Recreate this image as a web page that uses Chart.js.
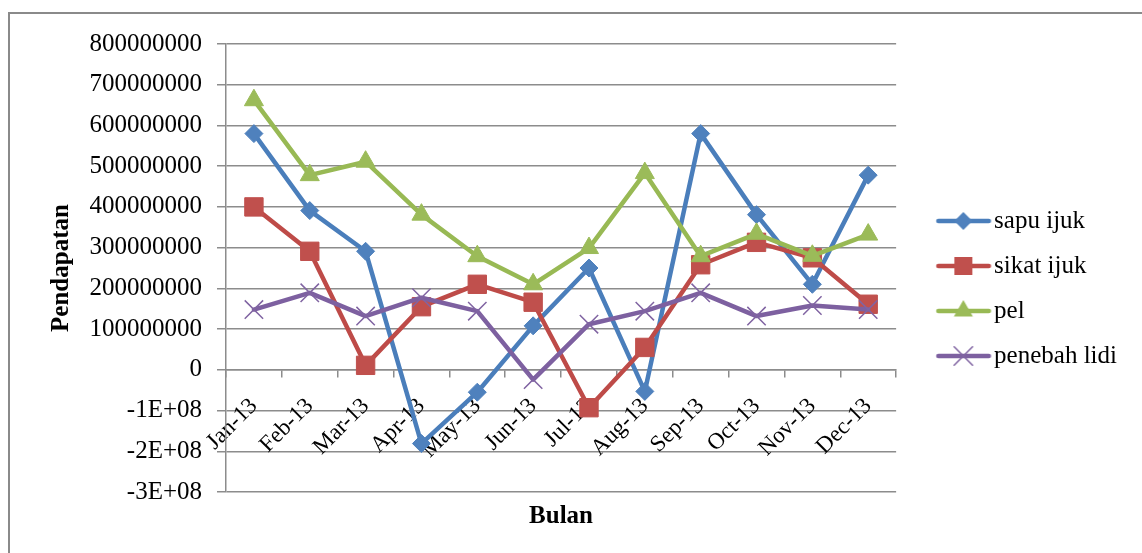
<!DOCTYPE html>
<html>
<head>
<meta charset="utf-8">
<script src="https://cdn.jsdelivr.net/npm/chart.js@4.4.0/dist/chart.umd.min.js"></script>
<style>
html, body { margin: 0; padding: 0; background: #fff; overflow: hidden; }
#frame { position: absolute; left: 8px; top: 12px; width: 1200px; height: 600px; border: 2px solid #8a8a8a; }
#myChart { position: absolute; left: 0; top: 0; }
</style>
</head>
<body>
<div id="frame"><canvas id="myChart" width="1132" height="539"></canvas></div>
<script>
const months = ["Jan-13", "Feb-13", "Mar-13", "Apr-13", "May-13", "Jun-13",
                "Jul-13", "Aug-13", "Sep-13", "Oct-13", "Nov-13", "Dec-13"];

const sapuIjuk = [580000000, 391000000, 291000000, -181000000, -55000000, 108000000,
                  250000000, -53000000, 580000000, 381000000, 210000000, 478000000];
const sikatIjuk = [400000000, 291000000, 11000000, 155000000, 210000000, 166000000,
                   -93000000, 55000000, 258000000, 313000000, 275000000, 161000000];
const pel = [662000000, 478000000, 511000000, 381000000, 279000000, 210000000,
             299000000, 483000000, 279000000, 334000000, 280000000, 332000000];
const penebahLidi = [148000000, 189000000, 132000000, 177000000, 144000000, -24000000,
                     112000000, 144000000, 189000000, 132000000, 158000000, 148000000];

const seriesNames = ["sapu ijuk", "sikat ijuk", "pel", "penebah lidi"];

const yTickValues = [-300000000, -200000000, -100000000, 0, 100000000, 200000000,
                     300000000, 400000000, 500000000, 600000000, 700000000, 800000000];
const yTickLabels = ["-3E+08", "-2E+08", "-1E+08", "0", "100000000", "200000000",
                     "300000000", "400000000", "500000000", "600000000", "700000000", "800000000"];

const lineColors = ["#4A7EBB", "#BE4B48", "#98B954", "#7D60A0"];
const markColors = ["#4F81BD", "#C0504D", "#9BBB59", "#8064A2"];
const serif = "'Liberation Serif', 'Times New Roman', serif";
const gridColor = "#8c8c8c";

// legend icon: short line with the marker in the middle
function legendIcon(i)
{
    const c = document.createElement("canvas");
    c.width = 91;
    c.height = 28;
    const g = c.getContext("2d");
    const cx = 60, cy = 14;
    g.strokeStyle = lineColors[i];
    g.lineWidth = 4.5;
    g.lineCap = "round";
    g.beginPath();
    g.moveTo(35, cy);
    g.lineTo(85.5, cy);
    g.stroke();
    g.fillStyle = markColors[i];
    g.strokeStyle = markColors[i];
    g.beginPath();
    if (i == 0) {
        g.moveTo(cx, cy - 9); g.lineTo(cx + 9, cy); g.lineTo(cx, cy + 9); g.lineTo(cx - 9, cy);
        g.closePath(); g.fill();
    } else if (i == 1) {
        g.fillRect(cx - 9, cy - 9, 18, 18);
    } else if (i == 2) {
        g.moveTo(cx, cy - 11); g.lineTo(cx + 9.5, cy + 5.5); g.lineTo(cx - 9.5, cy + 5.5);
        g.closePath(); g.fill();
    } else {
        g.lineWidth = 1.5;
        g.moveTo(cx - 9.2, cy - 9.2); g.lineTo(cx + 9.2, cy + 9.2);
        g.moveTo(cx + 9.2, cy - 9.2); g.lineTo(cx - 9.2, cy + 9.2);
        g.stroke();
    }
    return c;
}

const pointStyles = ["rectRot", "rect", "triangle", "crossRot"];
const pointRadii = [9, 13, 11, 13];
const values = [sapuIjuk, sikatIjuk, pel, penebahLidi];

let datasets = [];
for (let i = 0; i < values.length; i++)
{
    datasets.push({
        label: seriesNames[i],
        data: values[i],
        borderColor: lineColors[i],
        backgroundColor: markColors[i],
        borderWidth: 4.5,
        borderCapStyle: "round",
        borderJoinStyle: "round",
        tension: 0,
        pointStyle: pointStyles[i],
        pointRadius: pointRadii[i],
        pointHoverRadius: pointRadii[i],
        pointBackgroundColor: markColors[i],
        pointBorderColor: markColors[i],
        pointBorderWidth: i == 3 ? 1.5 : 1,
        order: values.length - i
    });
}

const ctx = document.getElementById("myChart").getContext("2d");
const myChart = new Chart(ctx, {
    type: "line",
    data: { labels: months, datasets: datasets },
    options: {
        responsive: false,
        animation: false,
        layout: { padding: { top: 28, right: 15, bottom: 18, left: 0 } },
        plugins: {
            tooltip: { enabled: false },
            legend: {
                position: "right",
                labels: {
                    usePointStyle: true,
                    pointStyleWidth: 65.5,
                    padding: 20,
                    color: "#000",
                    font: { family: serif, size: 25 },
                    generateLabels: function(chart) {
                        let items = Chart.defaults.plugins.legend.labels.generateLabels(chart);
                        items.sort((a, b) => a.datasetIndex - b.datasetIndex);
                        items.forEach(it => { it.pointStyle = legendIcon(it.datasetIndex); });
                        return items;
                    }
                }
            },
            title: {
                display: true,
                text: "Bulan",
                position: "bottom",
                fullSize: false,
                color: "#000",
                font: { family: serif, size: 25, weight: "bold" },
                padding: { top: 10, bottom: 3 }
            }
        },
        scales: {
            x: {
                type: "category",
                position: { y: 0 },
                offset: true,
                grid: { offset: true, drawOnChartArea: false, drawTicks: true, tickLength: 7,
                        color: gridColor, lineWidth: 1.5 },
                border: { display: true, color: gridColor, width: 1.5 },
                ticks: { autoSkip: false, minRotation: 45, maxRotation: 45, padding: 16,
                         color: "#000", font: { family: serif, size: 23 } }
            },
            y: {
                min: -300000000,
                max: 800000000,
                afterFit: function(scale) { scale.width = 216; },
                grid: { color: gridColor, lineWidth: 1.5, tickLength: 9, drawTicks: true },
                border: { display: true, color: gridColor, width: 1.5 },
                ticks: {
                    stepSize: 100000000,
                    padding: 15,
                    color: "#000",
                    font: { family: serif, size: 25 },
                    callback: function(v) {
                        let k = yTickValues.indexOf(v);
                        return k >= 0 ? yTickLabels[k] : "";
                    }
                },
                title: {
                    display: true,
                    text: "Pendapatan",
                    color: "#000",
                    font: { family: serif, size: 25, weight: "bold" },
                    padding: { top: 37, bottom: 0 }
                }
            }
        }
    }
});
</script>
</body>
</html>
